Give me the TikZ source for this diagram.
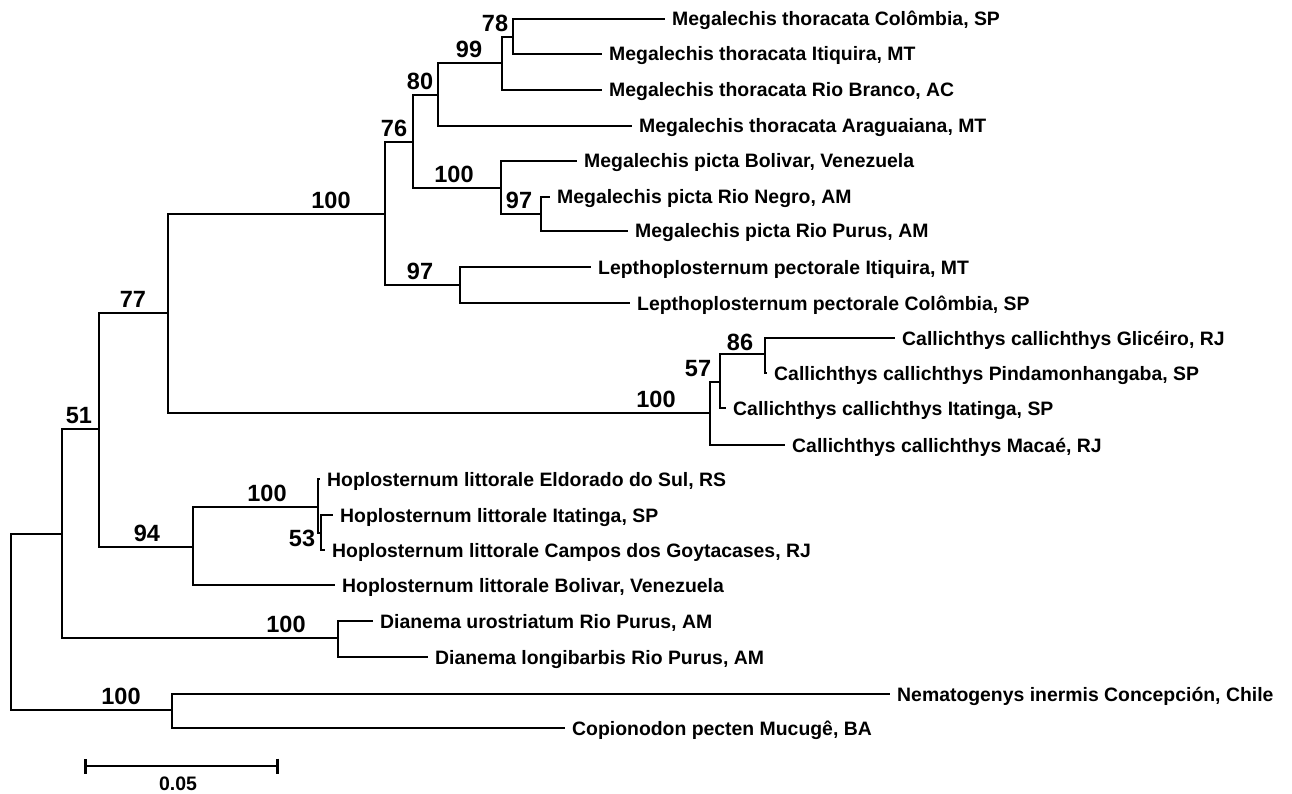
\documentclass[tikz,border=0pt]{standalone}
\usepackage{fontspec}
\setmainfont{Liberation Sans}
\usetikzlibrary{calc,arrows.meta}

\tikzset{
  branch/.style={line width=2.9pt, line join=miter},
  taxon/.style={anchor=base west, inner sep=0pt, xshift=7pt, yshift=-7pt,
    font=\bfseries\fontsize{19.4}{23}\selectfont},
  boot/.style={anchor=south, inner sep=0pt, yshift=5.5pt,
    font=\bfseries\fontsize{23.5}{28}\selectfont},
}

\begin{document}
\begin{tikzpicture}[x=1pt, y=-1pt]
      \useasboundingbox (0,0) rectangle (1292,794);

      \coordinate (root) at (11,622);
      \coordinate (n51) at (62,534);
      \coordinate (n77) at (99,429);
      \coordinate (a100) at (168,313);
      \coordinate (b100) at (385,214);
      \coordinate (m76) at (413,142);
      \coordinate (m80) at (438,95);
      \coordinate (m99) at (502,63);
      \coordinate (m78) at (513,37);
      \coordinate (p100) at (501,188);
      \coordinate (p97) at (541,214);
      \coordinate (l97) at (460,285);
      \coordinate (c100) at (710,413);
      \coordinate (c57) at (720,382);
      \coordinate (c86) at (765,354);
      \coordinate (h94) at (193,547);
      \coordinate (h100) at (318,507);
      \coordinate (h53) at (321,533);
      \coordinate (d100) at (338,638);
      \coordinate (o100) at (172,710);

      \coordinate (mtCol) at (665,19);
      \coordinate (mtIti) at (602,54);
      \coordinate (mtRio) at (602,90);
      \coordinate (mtAra) at (632,126);
      \coordinate (mpBol) at (577,161);
      \coordinate (mpNeg) at (550,197);
      \coordinate (mpPur) at (628,231);
      \coordinate (lpIti) at (591,267);
      \coordinate (lpCol) at (630,303);
      \coordinate (ccGli) at (895,338);
      \coordinate (ccPin) at (767,373);
      \coordinate (ccIta) at (726,408);
      \coordinate (ccMac) at (785,445);
      \coordinate (hlEld) at (320,479);
      \coordinate (hlIta) at (333,515);
      \coordinate (hlCam) at (325,550);
      \coordinate (hlBol) at (335,585);
      \coordinate (duPur) at (373,621);
      \coordinate (dlPur) at (428,657);
      \coordinate (niCon) at (890,694);
      \coordinate (cpMuc) at (565,728);

      \foreach \p/\c in {root/n51, root/o100, n51/n77, n51/d100, n77/a100, n77/h94,
          a100/b100, a100/c100, b100/m76, b100/l97, m76/m80, m76/p100,
          m80/m99, m80/mtAra, m99/m78, m99/mtRio, m78/mtCol, m78/mtIti,
          p100/mpBol, p100/p97, p97/mpNeg, p97/mpPur, l97/lpIti, l97/lpCol,
          c100/c57, c100/ccMac, c57/c86, c57/ccIta, c86/ccGli, c86/ccPin,
          h94/h100, h94/hlBol, h100/hlEld, h100/h53, h53/hlIta, h53/hlCam,
          d100/duPur, d100/dlPur, o100/niCon, o100/cpMuc}
        \draw[branch] (\p) |- (\c);

      \node[taxon] (mtColL) at (mtCol) {Megalechis thoracata Colômbia, SP};
      \node[taxon] (mtItiL) at (mtIti) {Megalechis thoracata Itiquira, MT};
      \node[taxon] (mtRioL) at (mtRio) {Megalechis thoracata Rio Branco, AC};
      \node[taxon] (mtAraL) at (mtAra) {Megalechis thoracata Araguaiana, MT};
      \node[taxon] (mpBolL) at (mpBol) {Megalechis picta Bolivar, Venezuela};
      \node[taxon] (mpNegL) at (mpNeg) {Megalechis picta Rio Negro, AM};
      \node[taxon] (mpPurL) at (mpPur) {Megalechis picta Rio Purus, AM};
      \node[taxon] (lpItiL) at (lpIti) {Lepthoplosternum pectorale Itiquira, MT};
      \node[taxon] (lpColL) at (lpCol) {Lepthoplosternum pectorale Colômbia, SP};
      \node[taxon] (ccGliL) at (ccGli) {Callichthys callichthys Glicéiro, RJ};
      \node[taxon] (ccPinL) at (ccPin) {Callichthys callichthys Pindamonhangaba, SP};
      \node[taxon] (ccItaL) at (ccIta) {Callichthys callichthys Itatinga, SP};
      \node[taxon] (ccMacL) at (ccMac) {Callichthys callichthys Macaé, RJ};
      \node[taxon] (hlEldL) at (hlEld) {Hoplosternum littorale Eldorado do Sul, RS};
      \node[taxon] (hlItaL) at (hlIta) {Hoplosternum littorale Itatinga, SP};
      \node[taxon] (hlCamL) at (hlCam) {Hoplosternum littorale Campos dos Goytacases, RJ};
      \node[taxon] (hlBolL) at (hlBol) {Hoplosternum littorale Bolivar, Venezuela};
      \node[taxon] (duPurL) at (duPur) {Dianema urostriatum Rio Purus, AM};
      \node[taxon] (dlPurL) at (dlPur) {Dianema longibarbis Rio Purus, AM};
      \node[taxon] (niConL) at (niCon) {Nematogenys inermis Concepción, Chile};
      \node[taxon] (cpMucL) at (cpMuc) {Copionodon pecten Mucugê, BA};

      \node[boot] (bs78) at ($(m78)+(-18,0)$) {78};
      \node[boot] (bs99) at ($(m99)+(-33,0)$) {99};
      \node[boot] (bs80) at ($(m80)+(-18,0)$) {80};
      \node[boot] (bs76) at ($(m76)+(-19,0)$) {76};
      \node[boot] (bsB100) at ($(b100)+(-54,0)$) {100};
      \node[boot] (bsP100) at ($(p100)+(-47,0)$) {100};
      \node[boot] (bsP97) at ($(p97)+(-22,0)$) {97};
      \node[boot] (bsL97) at ($(l97)+(-40,0)$) {97};
      \node[boot] (bs77) at ($(a100)+(-35,0)$) {77};
      \node[boot] (bs51) at ($(n77)+(-20,0)$) {51};
      \node[boot] (bs86) at ($(c86)+(-25,2)$) {86};
      \node[boot] (bs57) at ($(c57)+(-22,0)$) {57};
      \node[boot] (bsC100) at ($(c100)+(-54,0)$) {100};
      \node[boot] (bsH100) at ($(h100)+(-51,0)$) {100};
      \node[boot, yshift=0pt] (bs53) at (302,552) {53};
      \node[boot] (bs94) at ($(h94)+(-46,0)$) {94};
      \node[boot] (bsD100) at ($(d100)+(-52,0)$) {100};
      \node[boot] (bsO100) at ($(o100)+(-51,0)$) {100};

      \coordinate (sbL) at (84,766);
      \coordinate (sbR) at (279,766);
      \draw[branch, {Bar[width=15pt]}-{Bar[width=15pt]}] (sbL) -- (sbR);
      \node[anchor=north, inner sep=0pt, font=\bfseries\fontsize{19.5}{23}\selectfont]
        (sbT) at (178,777) {0.05};
    \end{tikzpicture}
\end{document}
